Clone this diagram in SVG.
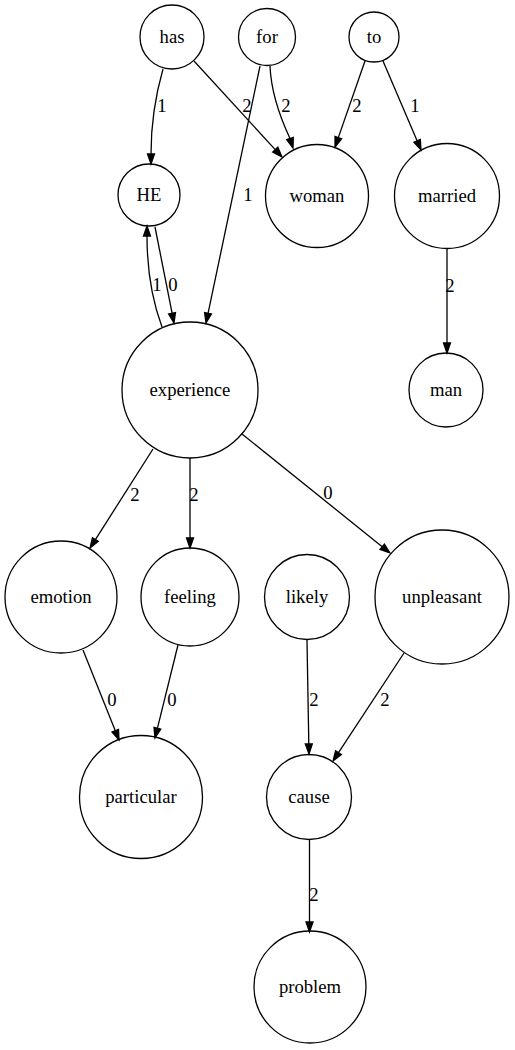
<svg xmlns="http://www.w3.org/2000/svg" width="515" height="1050" viewBox="0 0 515 1050">
<style>
.n{fill:none;stroke:#000;stroke-width:1.3}
.e{fill:none;stroke:#000;stroke-width:1.3}
.a{fill:#000;stroke:#000;stroke-width:1.3}
text{font-family:"Liberation Serif","Times New Roman",serif;font-size:18.67px;fill:#000;text-anchor:middle}
</style>
<rect width="515" height="1050" fill="#fff"/>
<g id="connectors">
<path class="e" d="M163,69 C157,90 151,120 151,154"/><polygon class="a" points="151,164 147.5,154 154.5,154"/><text x="162" y="112">1</text>
<path class="e" d="M194,61 L275.2,149.6"/><polygon class="a" points="282,157 272.7,152 277.8,147.2"/><text x="247" y="112">2</text>
<path class="e" d="M270,66 C271,90 279,115 290,138.5"/><polygon class="a" points="293,148 293.3,137.5 286.7,139.6"/><text x="286" y="112">2</text>
<path class="e" d="M260,66 L208.1,313.2"/><polygon class="a" points="206,323 211.5,313.9 204.6,312.5"/><text x="248" y="201">1</text>
<path class="e" d="M365,61 L338.3,137.6"/><polygon class="a" points="335,147 341.6,138.7 335,136.4"/><text x="357" y="112">2</text>
<path class="e" d="M383,61 L417.1,140.8"/><polygon class="a" points="421,150 420.3,139.4 413.9,142.2"/><text x="415" y="112">1</text>
<path class="e" d="M155,227 L172.1,313.2"/><polygon class="a" points="174,323 175.5,312.5 168.6,313.9"/><text x="173" y="291">0</text>
<path class="e" d="M162,327 C152,300 147,270 147,236"/><polygon class="a" points="147,226 143.5,236 150.5,236"/><text x="157" y="291">1</text>
<path class="e" d="M447,248 L447,343"/><polygon class="a" points="447,353 443.5,343 450.5,343"/><text x="450" y="292">2</text>
<path class="e" d="M153,449 L95.4,539.6"/><polygon class="a" points="90,548 98.3,541.4 92.4,537.7"/><text x="135" y="501">2</text>
<path class="e" d="M190,458 L190,538"/><polygon class="a" points="190,548 186.5,538 193.5,538"/><text x="194" y="501">2</text>
<path class="e" d="M242,434 L382.2,546.7"/><polygon class="a" points="390,553 380,549.4 384.4,544"/><text x="328" y="499">0</text>
<path class="e" d="M83,650 L115.3,730.7"/><polygon class="a" points="119,740 118.5,729.4 112,732"/><text x="112" y="706">0</text>
<path class="e" d="M178,645 L157.4,728.3"/><polygon class="a" points="155,738 160.8,729.1 154,727.4"/><text x="172" y="706">0</text>
<path class="e" d="M307,640 L308.8,744"/><polygon class="a" points="309,754 305.3,744 312.3,744"/><text x="314" y="706">2</text>
<path class="e" d="M404,653 L338.5,752.6"/><polygon class="a" points="333,761 341.4,754.5 335.6,750.7"/><text x="385" y="706">2</text>
<path class="e" d="M309.5,840 L309.5,922"/><polygon class="a" points="309.5,932 306,922 313,922"/><text x="314" y="901">2</text>
</g>
<g id="has"><circle class="n" cx="172" cy="37" r="32"/><text x="172" y="43">has</text></g>
<g id="for"><circle class="n" cx="267" cy="37" r="28.5"/><text x="267" y="43">for</text></g>
<g id="to"><circle class="n" cx="374" cy="37" r="25"/><text x="374" y="43">to</text></g>
<g id="HE"><circle class="n" cx="149" cy="195" r="31"/><text x="149" y="201">HE</text></g>
<g id="woman"><circle class="n" cx="317" cy="196" r="51.5"/><text x="317" y="202">woman</text></g>
<g id="married"><circle class="n" cx="447" cy="196" r="52.5"/><text x="447" y="202">married</text></g>
<g id="man"><circle class="n" cx="446" cy="390" r="37"/><text x="446" y="396">man</text></g>
<g id="experience"><circle class="n" cx="190" cy="390" r="68"/><text x="190" y="396">experience</text></g>
<g id="emotion"><circle class="n" cx="61" cy="597" r="56"/><text x="61" y="603">emotion</text></g>
<g id="feeling"><circle class="n" cx="190" cy="597" r="49"/><text x="190" y="603">feeling</text></g>
<g id="likely"><circle class="n" cx="307" cy="597" r="42.5"/><text x="307" y="603">likely</text></g>
<g id="unpleasant"><circle class="n" cx="442" cy="597" r="67"/><text x="442" y="603">unpleasant</text></g>
<g id="particular"><circle class="n" cx="141" cy="797" r="61.5"/><text x="141" y="803">particular</text></g>
<g id="cause"><circle class="n" cx="309" cy="797" r="42.5"/><text x="309" y="803">cause</text></g>
<g id="problem"><circle class="n" cx="310" cy="987" r="56"/><text x="310" y="993">problem</text></g>
</svg>
